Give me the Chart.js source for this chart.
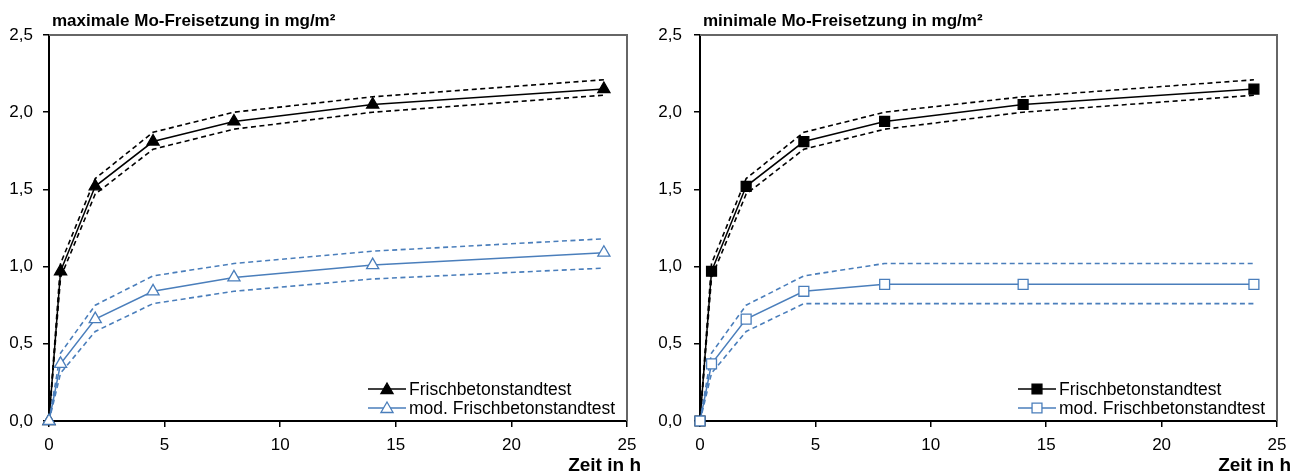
<!DOCTYPE html>
<html><head><meta charset="utf-8">
<script src="https://cdn.jsdelivr.net/npm/chart.js@4/dist/chart.umd.min.js"></script>
<style>
html,body{margin:0;padding:0;background:#fff;width:1303px;height:475px;overflow:hidden}
.box{position:absolute;top:0;height:475px}
#b1{left:0;width:651px}
#b2{left:651px;width:652px}
</style></head><body>
<div class="box" id="b1"><canvas id="c1"></canvas></div>
<div class="box" id="b2"><canvas id="c2"></canvas></div>
<script>
// ---- data ----
const timeH = [0, 0.5, 2, 4.5, 8, 14, 24];

const maxFrisch      = [0, 0.97, 1.52, 1.81, 1.94, 2.05, 2.15];
const maxFrischUpper = [0, 1.02, 1.57, 1.87, 2.00, 2.10, 2.21];
const maxFrischLower = [0, 0.93, 1.47, 1.76, 1.89, 2.00, 2.11];
const maxMod         = [0, 0.37, 0.66, 0.84, 0.93, 1.01, 1.09];
const maxModUpper    = [0, 0.44, 0.75, 0.94, 1.02, 1.10, 1.18];
const maxModLower    = [0, 0.31, 0.58, 0.76, 0.84, 0.92, 0.99];

const minFrisch      = [0, 0.97, 1.52, 1.81, 1.94, 2.05, 2.15];
const minFrischUpper = [0, 1.02, 1.57, 1.87, 2.00, 2.10, 2.21];
const minFrischLower = [0, 0.93, 1.47, 1.76, 1.89, 2.00, 2.11];
const minMod         = [0, 0.37, 0.66, 0.84, 0.885, 0.885, 0.885];
const minModUpper    = [0, 0.44, 0.75, 0.94, 1.02, 1.02, 1.02];
const minModLower    = [0, 0.31, 0.58, 0.76, 0.76, 0.76, 0.76];

const xTickLabels = ['0', '5', '10', '15', '20', '25'];
const yTickLabels = ['0,0', '0,5', '1,0', '1,5', '2,0', '2,5'];
const seriesNames = ['Frischbetonstandtest', 'mod. Frischbetonstandtest'];
const chartTitles = ['maximale Mo-Freisetzung in mg/m²', 'minimale Mo-Freisetzung in mg/m²'];
const xAxisTitle = 'Zeit in h';

// ---- styling ----
const FONT = '"Liberation Sans", Arial, Helvetica, sans-serif';
const BLUE = '#4a7ebb';
const BLACK = '#000000';
Chart.defaults.font.family = FONT;

function pts(ys) { return timeH.map((t, i) => ({x: t, y: ys[i]})); }

function mainDs(label, ys, color, style, radius, fill) {
  return {
    label, data: pts(ys), borderColor: color, borderWidth: 1.5,
    pointStyle: style, pointRadius: radius, pointHoverRadius: radius,
    pointBackgroundColor: fill, pointBorderColor: color, pointBorderWidth: 1.3,
    tension: 0, clip: false, fill: false, inLegend: true
  };
}
function dashDs(ys, color) {
  return {
    label: '', data: pts(ys), borderColor: color, borderWidth: 1.6,
    borderDash: [5, 3.5], pointRadius: 0, pointHoverRadius: 0,
    tension: 0, clip: false, fill: false
  };
}

function drawMarker(ctx, style, x, y, r, fill, stroke) {
  ctx.beginPath();
  if (style === 'triangle') {
    for (let k = 0; k < 3; k++) {
      const a = -Math.PI / 2 + k * 2 * Math.PI / 3;
      const px = x + Math.cos(a) * r, py = y + Math.sin(a) * r;
      if (k === 0) ctx.moveTo(px, py); else ctx.lineTo(px, py);
    }
    ctx.closePath();
  } else {
    const s = Math.SQRT1_2 * r;
    ctx.rect(x - s, y - s, 2 * s, 2 * s);
  }
  ctx.fillStyle = fill; ctx.fill();
  ctx.strokeStyle = stroke; ctx.lineWidth = 1.3; ctx.stroke();
}

const decoPlugin = {
  id: 'deco',
  beforeDatasetsDraw(chart) {
    const {ctx, chartArea: a} = chart;
    ctx.save();
    ctx.strokeStyle = '#666666'; ctx.lineWidth = 2;
    ctx.beginPath();
    ctx.moveTo(a.left, a.top); ctx.lineTo(a.right, a.top); ctx.lineTo(a.right, a.bottom);
    ctx.stroke();
    ctx.restore();
  },
  afterDraw(chart, args, opts) {
    const {ctx, chartArea: a} = chart;
    ctx.save();
    ctx.fillStyle = '#000';
    ctx.textBaseline = 'alphabetic';
    ctx.textAlign = 'left';
    ctx.font = 'bold 17px ' + FONT;
    ctx.fillText(opts.title, a.left + 3, 26);
    ctx.textAlign = 'right';
    ctx.font = 'bold 19px ' + FONT;
    ctx.fillText(xAxisTitle, a.right + 14, 471);
    ctx.font = '17.5px ' + FONT;
    ctx.textAlign = 'left';
    const items = chart.data.datasets.filter(d => d.inLegend);
    const order = [items.find(d => d.label === seriesNames[0]), items.find(d => d.label === seriesNames[1])];
    const tx = a.right - 218;
    order.forEach((d, i) => {
      const cy = a.bottom - 32 + i * 19;
      ctx.strokeStyle = d.borderColor; ctx.lineWidth = 1.5; ctx.setLineDash([]);
      ctx.beginPath(); ctx.moveTo(tx - 41, cy); ctx.lineTo(tx - 3, cy); ctx.stroke();
      drawMarker(ctx, d.pointStyle, tx - 22, cy + (d.pointStyle === 'triangle' ? 1 : 0), d.pointRadius, d.pointBackgroundColor, d.pointBorderColor);
      ctx.fillStyle = '#000';
      ctx.textBaseline = 'middle';
      ctx.fillText(d.label, tx, cy + 1);
    });
    ctx.restore();
  }
};

function makeChart(id, title, fr, frU, frL, md, mdU, mdL, style, rightPad, yPad) {
  const radius = 7;
  return new Chart(document.getElementById(id), {
    type: 'line',
    data: {
      datasets: [
        mainDs(seriesNames[1], md, BLUE, style, radius, '#ffffff'),
        dashDs(mdU, BLUE),
        dashDs(mdL, BLUE),
        mainDs(seriesNames[0], fr, BLACK, style, radius, BLACK),
        dashDs(frU, BLACK),
        dashDs(frL, BLACK)
      ]
    },
    options: {
      responsive: true, maintainAspectRatio: false, animation: false, devicePixelRatio: 1,
      layout: {padding: {top: 35, right: rightPad, bottom: 0, left: 0}},
      plugins: {legend: {display: false}, tooltip: {enabled: false}, title: {display: false}, deco: {title}},
      scales: {
        x: {
          type: 'linear', min: 0, max: 25,
          ticks: {stepSize: 5, color: '#000', font: {size: 17}, padding: 8, maxRotation: 0,
                  callback: (v, i) => xTickLabels[i]},
          grid: {drawOnChartArea: false, drawTicks: true, tickLength: 6, color: '#000', lineWidth: 1.5},
          border: {display: true, color: '#000', width: 2},
          afterFit: s => { s.height = 54; }
        },
        y: {
          type: 'linear', min: 0, max: 2.5,
          ticks: {stepSize: 0.5, color: '#000', font: {size: 17}, padding: yPad,
                  callback: (v, i) => yTickLabels[i]},
          grid: {drawOnChartArea: false, drawTicks: true, tickLength: 6, color: '#000', lineWidth: 1.5},
          border: {display: true, color: '#000', width: 2},
          afterFit: s => { s.width = 49; }
        }
      }
    },
    plugins: [decoPlugin]
  });
}

makeChart('c1', chartTitles[0], maxFrisch, maxFrischUpper, maxFrischLower, maxMod, maxModUpper, maxModLower, 'triangle', 24, 10);
makeChart('c2', chartTitles[1], minFrisch, minFrischUpper, minFrischLower, minMod, minModUpper, minModLower, 'rect', 26, 12);
</script>
</body></html>
